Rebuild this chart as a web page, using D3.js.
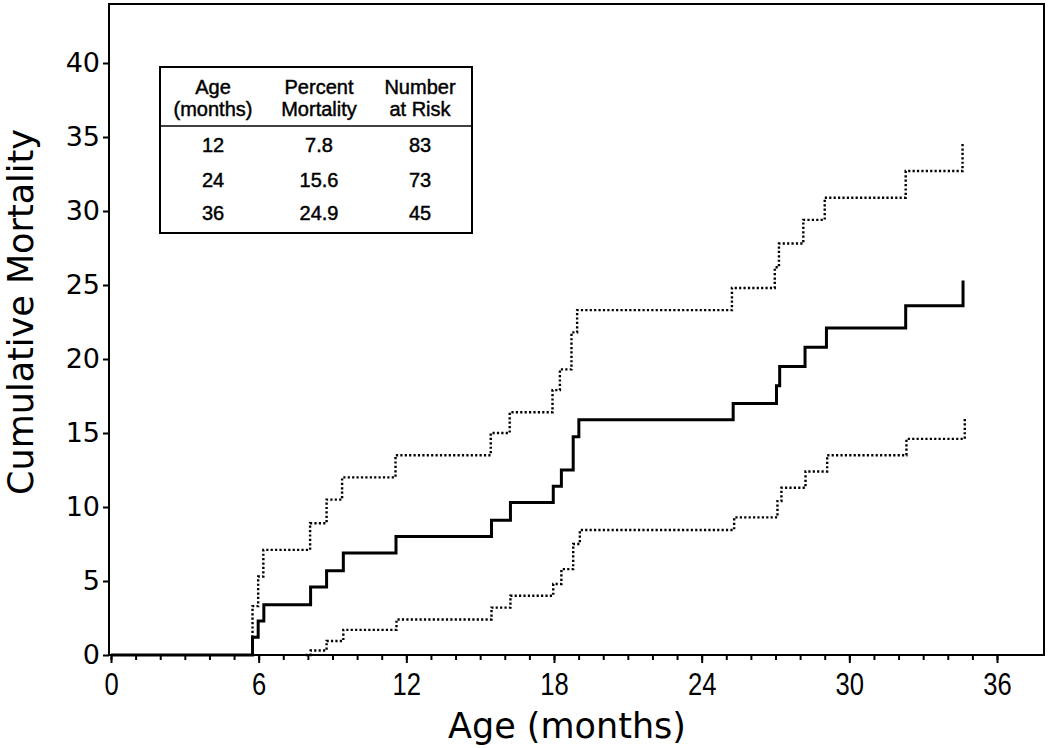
<!DOCTYPE html>
<html>
<head>
<meta charset="utf-8">
<script src="https://cdn.jsdelivr.net/npm/d3@7"></script>
<style>
  html, body { margin: 0; padding: 0; background: #fff; }
  svg { display: block; }
</style>
</head>
<body>
<svg id="chart" width="1050" height="748"></svg>
<script>
// ---- Data ----
const medianMonths = [0, 5.75, 5.98, 6.21, 8.11, 8.76, 9.44, 11.58, 15.46, 16.23, 17.97, 18.30, 18.78, 19.01, 25.28, 27.04, 27.17, 28.20, 29.07, 32.29, 34.62];
const medianValues = [0, 1.2, 2.3, 3.4, 4.6, 5.7, 6.9, 8.0, 9.1, 10.3, 11.4, 12.5, 14.75, 15.9, 17.0, 18.2, 19.5, 20.8, 22.1, 23.6, 25.3];

const upperMonths = [5.75, 5.75, 5.98, 6.19, 8.09, 8.76, 9.39, 11.56, 15.43, 16.2, 17.94, 18.24, 18.71, 18.94, 25.23, 26.97, 27.14, 28.13, 29.0, 32.29, 34.6];
const upperValues = [0, 3.3, 5.3, 7.1, 8.9, 10.5, 12.0, 13.5, 15.0, 16.4, 17.9, 19.3, 21.8, 23.3, 24.8, 26.2, 27.8, 29.4, 30.9, 32.7, 34.6];

const lowerMonths = [7.9, 8.11, 8.76, 9.44, 11.6, 15.46, 16.23, 17.97, 18.30, 18.78, 19.05, 25.32, 27.08, 27.24, 28.22, 29.1, 32.32, 34.69];
const lowerValues = [0, 0.3, 0.95, 1.7, 2.4, 3.2, 4.0, 4.8, 5.8, 7.5, 8.45, 9.3, 10.4, 11.3, 12.4, 13.5, 14.6, 16.0];

const xTickValues = [0, 6, 12, 18, 24, 30, 36];
const yTickValues = [0, 5, 10, 15, 20, 25, 30, 35, 40];

const tableHeaders = [["Age", "(months)"], ["Percent", "Mortality"], ["Number", "at Risk"]];
const tableAges = ["12", "24", "36"];
const tableMortality = ["7.8", "15.6", "24.9"];
const tableAtRisk = ["83", "73", "45"];

const xLabel = "Age (months)";
const yLabel = "Cumulative Mortality";

// ---- Layout ----
const svg = d3.select("#chart");
const frame = { left: 109, top: 4, right: 1044, bottom: 655 };

const x = d3.scaleLinear().domain([0, 36]).range([111, 997]);
const y = d3.scaleLinear().domain([0, 40]).range([655, 63]);

// frame
svg.append("rect")
  .attr("x", frame.left).attr("y", frame.top)
  .attr("width", frame.right - frame.left)
  .attr("height", frame.bottom - frame.top)
  .attr("fill", "none").attr("stroke", "#000").attr("stroke-width", 2);

// y axis
const yAxis = svg.append("g")
  .attr("transform", `translate(${frame.left},0)`)
  .call(d3.axisLeft(y).tickValues(yTickValues).tickSize(6).tickPadding(3));
yAxis.select(".domain").remove();
yAxis.selectAll(".tick line").attr("stroke", "#000").attr("stroke-width", 2);
yAxis.selectAll(".tick text")
  .attr("fill", "#000")
  .style("font-family", "'DejaVu Sans', sans-serif")
  .style("font-size", "27px");

// x axis: minor ticks every month
const xMinor = svg.append("g")
  .attr("transform", `translate(0,${frame.bottom})`)
  .call(d3.axisBottom(x).tickValues(d3.range(0, 37, 1)).tickSize(5).tickFormat(""));
xMinor.select(".domain").remove();
xMinor.selectAll(".tick line").attr("stroke", "#000").attr("stroke-width", 2);

const xAxis = svg.append("g")
  .attr("transform", `translate(0,${frame.bottom})`)
  .call(d3.axisBottom(x).tickValues(xTickValues).tickSize(8).tickPadding(9));
xAxis.select(".domain").remove();
xAxis.selectAll(".tick line").attr("stroke", "#000").attr("stroke-width", 2);
xAxis.selectAll(".tick text")
  .attr("fill", "#000")
  .attr("transform", "scale(0.8,1)")
  .style("font-family", "'Liberation Sans', Arial, sans-serif")
  .style("font-size", "32px");

// axis titles
svg.append("text")
  .attr("x", 567).attr("y", 738)
  .attr("text-anchor", "middle")
  .style("font-family", "'DejaVu Sans', sans-serif")
  .style("font-size", "35px")
  .text(xLabel);

svg.append("text")
  .attr("transform", "translate(33,312) rotate(-90)")
  .attr("text-anchor", "middle")
  .style("font-family", "'DejaVu Sans', sans-serif")
  .style("font-size", "35px")
  .text(yLabel);

// ---- Curves ----
const line = d3.line()
  .x(d => x(d[0]))
  .y(d => y(d[1]))
  .curve(d3.curveStepAfter);

const series = [
  { months: upperMonths, values: upperValues, dotted: true },
  { months: lowerMonths, values: lowerValues, dotted: true },
  { months: medianMonths, values: medianValues, dotted: false }
];

series.forEach(s => {
  const pts = s.months.map((m, i) => [m, s.values[i]]);
  svg.append("path")
    .datum(pts)
    .attr("d", line)
    .attr("fill", "none")
    .attr("stroke", "#000")
    .attr("stroke-width", s.dotted ? 2.4 : 3)
    .attr("stroke-dasharray", s.dotted ? "2.2,2.2" : null);
});

// ---- Inset table ----
const tbl = { x: 160, y: 67, w: 312, h: 166, headerLine: 126 };
const colCenters = [213, 319, 420];
const tg = svg.append("g")
  .style("font-family", "'Liberation Sans', Arial, sans-serif")
  .style("font-size", "20px")
  .attr("fill", "#000");

tg.append("rect")
  .attr("x", tbl.x).attr("y", tbl.y).attr("width", tbl.w).attr("height", tbl.h)
  .attr("fill", "#fff").attr("stroke", "#000").attr("stroke-width", 2);
tg.append("line")
  .attr("x1", tbl.x).attr("x2", tbl.x + tbl.w)
  .attr("y1", tbl.headerLine).attr("y2", tbl.headerLine)
  .attr("stroke", "#000").attr("stroke-width", 1.5);

tableHeaders.forEach((h, i) => {
  h.forEach((line, j) => {
    tg.append("text")
      .attr("x", colCenters[i]).attr("y", 94 + j * 22)
      .attr("text-anchor", "middle")
      .attr("stroke", "#000").attr("stroke-width", 0.45)
      .text(line);
  });
});

const rowsY = [152, 187, 220];
[tableAges, tableMortality, tableAtRisk].forEach((col, i) => {
  col.forEach((v, j) => {
    tg.append("text")
      .attr("x", colCenters[i]).attr("y", rowsY[j])
      .attr("text-anchor", "middle")
      .attr("stroke", "#000").attr("stroke-width", 0.45)
      .text(v);
  });
});
</script>
</body>
</html>
